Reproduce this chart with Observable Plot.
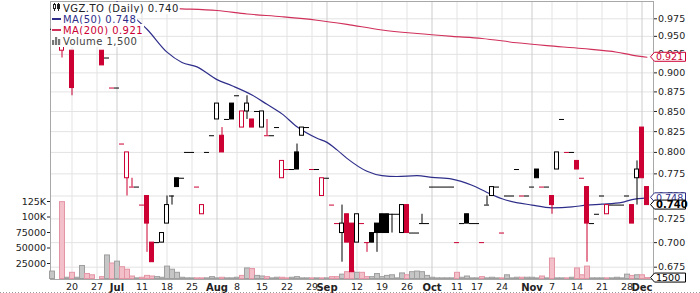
<!DOCTYPE html>
<html><head><meta charset="utf-8">
<script src="https://cdn.jsdelivr.net/npm/d3@7"></script>
<script src="https://cdn.jsdelivr.net/npm/@observablehq/plot@0.6"></script>
<style>
html,body{margin:0;padding:0;background:#fff;}
#chart{position:relative;width:700px;height:293px;overflow:hidden;font-family:"DejaVu Sans";}
#chart svg{position:absolute;left:0;top:0;background:transparent !important;}
</style></head><body><div id="chart"></div>
<script>
const symbol = "VGZ.TO (Daily)";
const dates = [
"2022-06-14","2022-06-15","2022-06-16","2022-06-17",
"2022-06-20","2022-06-21","2022-06-22","2022-06-23","2022-06-24",
"2022-06-27","2022-06-28","2022-06-29","2022-06-30",
"2022-07-04","2022-07-05","2022-07-06","2022-07-07","2022-07-08",
"2022-07-11","2022-07-12","2022-07-13","2022-07-14","2022-07-15",
"2022-07-18","2022-07-19","2022-07-20","2022-07-21","2022-07-22",
"2022-07-25","2022-07-26","2022-07-27","2022-07-28","2022-07-29",
"2022-08-02","2022-08-03","2022-08-04","2022-08-05",
"2022-08-08","2022-08-09","2022-08-10","2022-08-11","2022-08-12",
"2022-08-15","2022-08-16","2022-08-17","2022-08-18","2022-08-19",
"2022-08-22","2022-08-23","2022-08-24","2022-08-25","2022-08-26",
"2022-08-29","2022-08-30","2022-08-31","2022-09-01","2022-09-02",
"2022-09-06","2022-09-07","2022-09-08","2022-09-09",
"2022-09-12","2022-09-13","2022-09-14","2022-09-15","2022-09-16",
"2022-09-19","2022-09-20","2022-09-21","2022-09-22","2022-09-23",
"2022-09-26","2022-09-27","2022-09-28","2022-09-29","2022-09-30",
"2022-10-03","2022-10-04","2022-10-05","2022-10-06","2022-10-07",
"2022-10-11","2022-10-12","2022-10-13","2022-10-14",
"2022-10-17","2022-10-18","2022-10-19","2022-10-20","2022-10-21",
"2022-10-24","2022-10-25","2022-10-26","2022-10-27","2022-10-28",
"2022-10-31","2022-11-01","2022-11-02","2022-11-03","2022-11-04",
"2022-11-07","2022-11-08","2022-11-09","2022-11-10","2022-11-11",
"2022-11-14","2022-11-15","2022-11-16","2022-11-17","2022-11-18",
"2022-11-21","2022-11-22","2022-11-23","2022-11-24","2022-11-25",
"2022-11-28","2022-11-29","2022-11-30","2022-12-01","2022-12-02"];

const open = [
.96,null,.93,.95,.93,.95,.96,.95,.94,null,
.93,.92,.88,.88,.81,.77,.76,.76,.74,.75,
.70,.70,.70,.72,.75,.77,.77,.80,.80,.76,
.73,.80,.82,.84,.82,.84,.86,.87,.83,.85,
.84,.85,.83,.82,.82,.83,.77,.78,.78,.80,
.82,.83,.78,.78,.75,.77,.74,.72,.71,.73,
.72,.70,.72,.70,.71,.72,.73,.73,.73,.73,
.71,.74,.71,.71,.72,.72,.76,.76,.76,.76,
.76,.70,.72,.73,.72,.72,.70,.74,.75,.76,
.71,.75,.75,.78,.75,.75,.76,.78,.76,.76,
.75,.78,.84,.80,.80,.79,.77,.76,.72,.73,
.75,.73,.74,.74,.74,.75,.74,.77,.83,.76];
const high = [
.96,null,.94,.95,.93,.95,.96,.95,.94,null,
.93,.92,.88,.88,.81,.80,.77,.76,.74,.75,
.70,.70,.71,.75,.75,.77,.77,.80,.80,.76,
.74,.80,.82,.86,.83,.84,.86,.87,.85,.87,
.84,.85,.85,.84,.82,.83,.79,.78,.78,.81,
.83,.83,.78,.78,.77,.77,.74,.72,.74,.73,
.72,.73,.72,.70,.71,.72,.73,.73,.73,.73,
.74,.74,.71,.71,.73,.72,.76,.76,.76,.76,
.76,.70,.72,.73,.72,.72,.70,.75,.76,.76,
.71,.75,.75,.78,.75,.75,.76,.78,.76,.76,
.75,.80,.84,.80,.80,.79,.77,.76,.72,.73,
.75,.74,.74,.74,.74,.75,.74,.79,.83,.76];
const low = [
.96,null,.92,.95,.87,.95,.96,.95,.94,null,
.91,.92,.88,.88,.81,.75,.76,.76,.74,.69,
.68,.70,.70,.72,.74,.76,.77,.80,.80,.76,
.73,.80,.82,.84,.80,.84,.84,.87,.83,.84,
.83,.85,.83,.82,.82,.83,.77,.78,.78,.78,
.82,.83,.78,.78,.75,.77,.74,.72,.68,.70,
.67,.70,.72,.69,.70,.69,.71,.71,.71,.73,
.71,.71,.71,.71,.72,.72,.76,.76,.76,.76,
.76,.70,.72,.72,.72,.72,.70,.74,.75,.76,
.71,.75,.75,.78,.75,.75,.76,.77,.76,.76,
.73,.78,.84,.80,.80,.78,.77,.68,.72,.73,
.75,.73,.74,.74,.74,.75,.72,.74,.77,.74];
const close = [
.96,null,.94,.95,.88,.95,.96,.95,.94,null,
.91,.92,.88,.88,.81,.80,.76,.76,.74,.72,
.68,.70,.71,.74,.75,.76,.77,.80,.80,.76,
.74,.80,.82,.86,.80,.84,.84,.87,.85,.86,
.83,.85,.85,.82,.82,.83,.79,.78,.78,.78,
.83,.83,.78,.78,.77,.77,.74,.72,.72,.70,
.67,.73,.72,.70,.70,.71,.71,.71,.73,.73,
.74,.71,.71,.71,.72,.72,.76,.76,.76,.76,
.76,.70,.72,.72,.72,.72,.70,.74,.76,.76,
.71,.75,.75,.78,.75,.75,.76,.77,.76,.76,
.74,.80,.84,.80,.80,.78,.77,.72,.72,.73,
.75,.74,.74,.74,.74,.75,.72,.78,.77,.74];
const volume = [
12000,0,124000,2000,10000,2000,21000,8000,6000,0,
3000,38000,25000,28000,19000,15000,4000,1000,2000,5000,
4000,3000,2000,20000,15000,10000,2000,1000,1000,1000,
1000,1000,3000,1000,2000,1000,1000,2000,5000,17000,
16000,5000,4000,3000,1000,2000,2000,1000,2000,3000,
1000,1000,1000,1000,1000,1000,3000,3000,7000,11000,
12000,10000,10000,3000,3000,8000,3000,5000,6000,1000,
9000,6000,11000,12000,11000,5000,2000,1000,1000,1000,
1000,10000,2000,4000,1000,1000,3000,1000,2000,1000,
1000,6000,1000,2000,2000,2000,2000,1000,4000,1000,
33000,1000,1000,1000,2000,17000,6000,20000,1000,1000,
1000,1000,1000,2000,1000,7000,5000,6000,6000,1500];

const ma50Dates = ["2022-07-04","2022-07-07","2022-07-12","2022-07-18","2022-07-21","2022-07-26","2022-08-02","2022-08-05","2022-08-11","2022-08-16","2022-08-19","2022-08-24","2022-08-30","2022-09-01","2022-09-06","2022-09-08","2022-09-14","2022-09-19","2022-09-22","2022-09-28","2022-10-03","2022-10-07","2022-10-14","2022-10-19","2022-10-24","2022-11-01","2022-11-07","2022-11-11","2022-11-16","2022-11-21","2022-11-25","2022-11-29","2022-12-02"];
const ma50Val = [1.000,0.980,0.960,0.928,0.914,0.908,0.891,0.883,0.871,0.859,0.847,0.831,0.817,0.812,0.803,0.793,0.778,0.773,0.772,0.773,0.771,0.769,0.762,0.754,0.747,0.740,0.737,0.738,0.740,0.741,0.743,0.746,0.748];
const ma200Dates = ["2022-06-14","2022-06-28","2022-07-13","2022-07-21","2022-08-02","2022-08-10","2022-08-19","2022-08-30","2022-09-08","2022-09-19","2022-09-28","2022-10-07","2022-10-18","2022-10-27","2022-11-04","2022-11-15","2022-11-24","2022-11-29","2022-12-02"];
const ma200Val = [0.996,0.993,0.991,0.9895,0.987,0.982,0.978,0.973,0.967,0.959,0.954,0.950,0.947,0.941,0.937,0.933,0.928,0.924,0.921];

const tickDates = ["2022-06-20","2022-06-27","2022-07-04","2022-07-11","2022-07-18","2022-07-25","2022-08-02","2022-08-08","2022-08-15","2022-08-22","2022-08-29","2022-09-01","2022-09-12","2022-09-19","2022-09-26","2022-10-03","2022-10-11","2022-10-17","2022-10-24","2022-11-01","2022-11-07","2022-11-14","2022-11-21","2022-11-28","2022-12-01"];
const tickLabels = ["20","27","Jul","11","18","25","Aug","8","15","22","29","Sep","12","19","26","Oct","11","17","24","Nov","7","14","21","28","Dec"];
const priceTicks = [0.675,0.700,0.725,0.750,0.775,0.800,0.825,0.850,0.875,0.900,0.925,0.950,0.975];
const volTicks = [25000,50000,75000,100000,125000];
const volTickLabels = ["25000","50000","75000","100K","125K"];

// ---- styling / layout ----
const RED = "#cc0033", BLACK = "#000000", NAVY = "#2e2e8a", MA200C = "#d0305a";
const W = 700, H = 293;
const base = {width:W, height:H, marginLeft:50, marginRight:47, marginTop:1, marginBottom:14,
  style:{fontFamily:"DejaVu Sans", fontSize:"9.5px", color:"#222", background:"transparent", overflow:"visible"}};
const xDomain = [-0.3, 120.3];
const priceDomain = [0.6628, 1.0003];

const idx = d3.range(dates.length);
const candles = [];
let prev = null;
idx.forEach(i => {
  if (close[i] == null) return;
  const c = close[i];
  candles.push({i, o:open[i], h:high[i], l:low[i], c, down: prev != null && c < prev, hollow: c > open[i]});
  prev = c;
});
const downBy = new Map(candles.map(d => [d.i, d.down]));
const col = d => d.down ? RED : BLACK;
const bodies = candles.filter(d => d.o !== d.c);
const flats = candles.filter(d => d.o === d.c);
const wicks = candles.filter(d => d.h > d.l);
const vols = idx.filter(i => volume[i] > 0).map(i => ({i, v:volume[i], down: downBy.get(i) === true}));
const ma50 = ma50Dates.map((d,j) => ({i: dates.indexOf(d), v: ma50Val[j]}));
const ma200 = ma200Dates.map((d,j) => ({i: dates.indexOf(d), v: ma200Val[j]}));

const tickIdx = tickDates.map(d => dates.indexOf(d));
const labelOf = new Map(tickIdx.map((k,j) => [k, tickLabels[j]]));
const isMonth = s => /[A-Za-z]/.test(s);
const weekIdx = tickIdx.filter(k => !isMonth(labelOf.get(k)));
const monthIdx = tickIdx.filter(k => isMonth(labelOf.get(k)));

// layer 1: grid, frame, axes
const p1 = Plot.plot({...base,
  x:{domain:xDomain}, y:{type:"log", domain:priceDomain},
  marks:[
    Plot.ruleY(priceTicks, {stroke:"#e3e3e3"}),
    Plot.ruleX(weekIdx, {stroke:"#e3e3e3"}),
    Plot.ruleX(monthIdx, {stroke:"#cdcdcd"}),
    Plot.frame({stroke:"#a8a8a8"}),
    Plot.axisX({ticks:weekIdx, tickFormat:k => labelOf.get(k), tickSize:0, tickPadding:4, label:null}),
    Plot.axisX({ticks:monthIdx, tickFormat:k => labelOf.get(k), tickSize:0, tickPadding:4, fontWeight:"bold", fontSize:10, label:null}),
    Plot.axisY({anchor:"right", ticks:priceTicks, tickFormat:d3.format(".3f"), tickSize:3, tickPadding:1.5, label:null})
  ]});

// layer 2: volume
const p2 = Plot.plot({...base,
  x:{domain:xDomain, axis:null}, y:{domain:[0,125000], range:[278.5,201]},
  color:{type:"identity"},
  marks:[
    Plot.rect(vols, {x1:d => d.i - 0.4, x2:d => d.i + 0.6, y1:0, y2:"v",
      fill:d => d.down ? "#f3c0ca" : "#c6c6c6", stroke:d => d.down ? "#e495a5" : "#9e9e9e"}),
    Plot.axisY({anchor:"left", ticks:volTicks, tickFormat:v => volTickLabels[volTicks.indexOf(v)], tickSize:3, tickPadding:1.5, label:null})
  ]});

// layer 3: price marks
const p3 = Plot.plot({...base,
  x:{domain:xDomain, axis:null}, y:{type:"log", domain:priceDomain, axis:null},
  color:{type:"identity"},
  marks:[
    Plot.line(ma200, {x:"i", y:"v", stroke:MA200C, strokeWidth:1.1, curve:"monotone-x", clip:true}),
    Plot.line(ma50, {x:"i", y:"v", stroke:NAVY, strokeWidth:1.2, curve:"monotone-x", clip:true}),
    Plot.ruleX(wicks, {x:"i", y1:"l", y2:"h", stroke:col, clip:true}),
    Plot.rect(bodies, {x1:d => d.i - 0.4, x2:d => d.i + 0.4, y1:"o", y2:"c",
      fill:d => d.hollow ? "white" : col(d), stroke:col, clip:true}),
    Plot.ruleY(flats, {y:"c", x1:d => d.i - 0.5, x2:d => d.i + 0.5, stroke:col, clip:true})
  ]});

const chart = document.getElementById("chart");
chart.append(p1, p2, p3);

// bottom dotted line
d3.select(p1).append("line").attr("x1",0).attr("x2",W).attr("y1",292.5).attr("y2",292.5)
  .attr("stroke","#9a9a9a").attr("stroke-dasharray","1,2");

// legend
const fmt3 = d3.format(".3f");
const last = close.length - 1;
const svg = d3.select(p3);
const lg = svg.append("g").attr("font-family","DejaVu Sans").attr("font-size","10px")
  .attr("letter-spacing","0.45px").attr("text-anchor","start");
const items = [
  {text:`${symbol} ${fmt3(close[last])}`, color:"#222", icon:"candle"},
  {text:`MA(50) ${fmt3(ma50Val[ma50Val.length-1])}`, color:NAVY, icon:"line", ic:NAVY},
  {text:`MA(200) ${fmt3(ma200Val[ma200Val.length-1])}`, color:RED, icon:"line", ic:MA200C},
  {text:`Volume ${d3.format(",")(volume[last])}`, color:"#444", icon:"bars"}
];
items.forEach((it, j) => {
  const b = 12 + 11 * j;
  const r = lg.append("rect").attr("x",51).attr("y",b - 10).attr("height",12).attr("fill","white");
  const t = lg.append("text").attr("x",63).attr("y",b).attr("text-anchor","start").attr("fill",it.color).text(it.text);
  let w = t.node().getComputedTextLength();
  if (!w) w = it.text.length * 6;
  r.attr("width", 63 + w + 1 - 51);
  if (it.icon === "candle") {
    lg.append("line").attr("x1",54.5).attr("x2",54.5).attr("y1",b-9).attr("y2",b-1).attr("stroke","#222");
    lg.append("rect").attr("x",53.5).attr("y",b-7.5).attr("width",2).attr("height",4).attr("fill","white").attr("stroke","#222");
    lg.append("line").attr("x1",58.5).attr("x2",58.5).attr("y1",b-9).attr("y2",b-1).attr("stroke","#222");
    lg.append("rect").attr("x",57.5).attr("y",b-7.5).attr("width",2).attr("height",4).attr("fill","#222").attr("stroke","#222");
  } else if (it.icon === "line") {
    lg.append("line").attr("x1",52).attr("x2",61).attr("y1",b-4).attr("y2",b-4).attr("stroke",it.ic).attr("stroke-width",2);
  } else {
    [[52,5],[55,8],[58,6]].forEach(([x,h]) => lg.append("rect").attr("x",x).attr("y",b-h).attr("width",2.2).attr("height",h).attr("fill","#777"));
  }
});

// right-hand value tags
const yP = p3.scale("y"), yV = p2.scale("y");
function tag(yc, text, color, bold) {
  const g = svg.append("g").attr("text-anchor","start");
  g.append("path").attr("d", `M650.5,${yc} L654.5,${yc-4.5} L685.5,${yc-4.5} L685.5,${yc+4.5} L654.5,${yc+4.5} Z`)
    .attr("fill","white").attr("stroke",color);
  g.append("text").attr("x",656).attr("y",yc+3.6).attr("fill",color).attr("text-anchor","start")
    .attr("font-family","DejaVu Sans").attr("font-size", bold ? "10px" : "9.5px")
    .attr("font-weight", bold ? "bold" : "normal").text(text);
}
tag(yP.apply(ma200Val[ma200Val.length-1]), fmt3(ma200Val[ma200Val.length-1]), RED, false);
tag(yP.apply(ma50Val[ma50Val.length-1]), fmt3(ma50Val[ma50Val.length-1]), NAVY, false);
tag(yP.apply(close[last]), fmt3(close[last]), "#000", true);
tag(yV.apply(volume[last]), String(volume[last]), "#000", false);
</script></body></html>
